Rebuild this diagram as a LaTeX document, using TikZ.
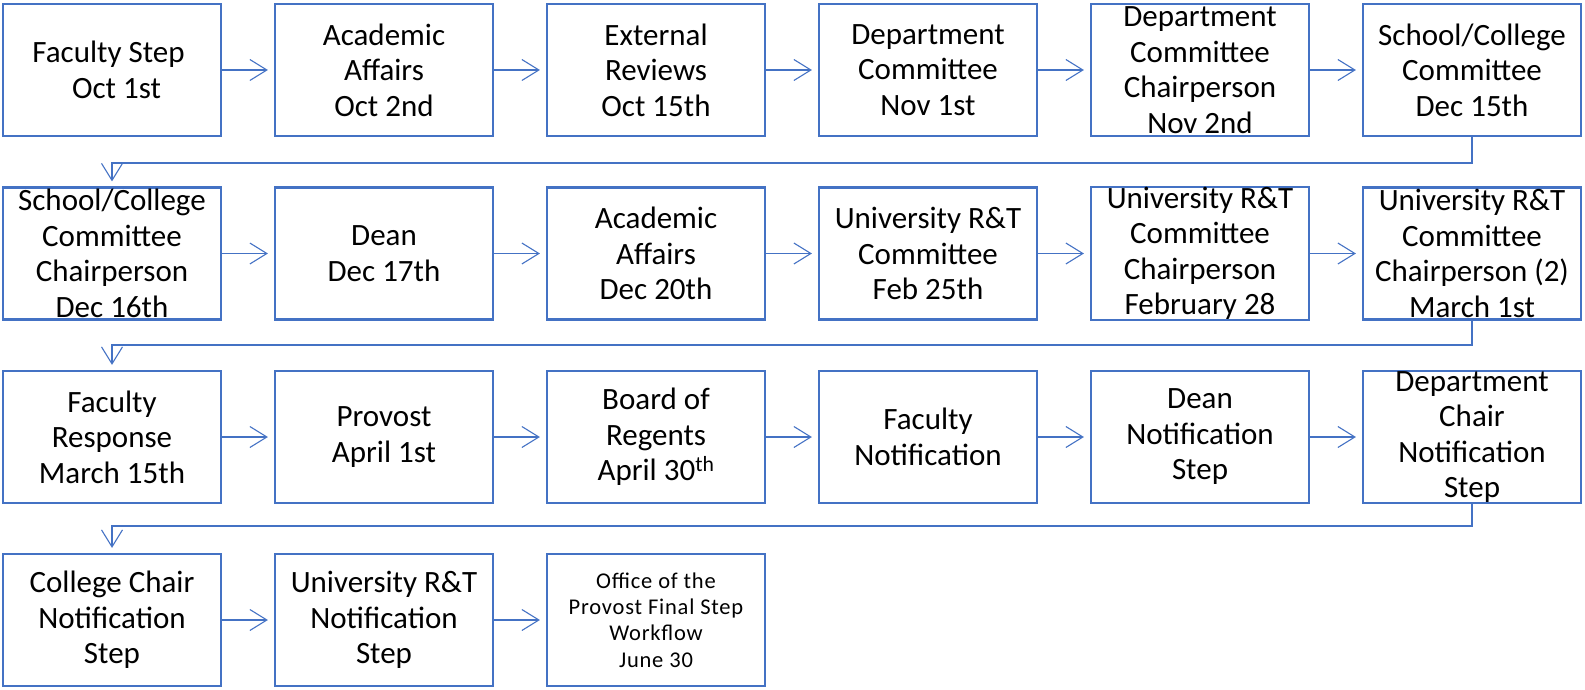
\documentclass[tikz,border=0pt]{standalone}
\usepackage{fontspec}
\setmainfont{Carlito}
\newfontfamily\spacedcarlito[LetterSpace=3.5]{Carlito}
\usetikzlibrary{arrows.meta}
\definecolor{boxblue}{HTML}{4472C4}
\tikzset{
  stepbox/.style={draw=boxblue, line width=2.2pt, minimum width=218pt, minimum height=132pt,
    inner sep=0pt, align=center, font=\fontsize{31}{35.5}\selectfont, text=black},
  smallbox/.style={stepbox, font=\spacedcarlito\fontsize{22.5}{26.3}\selectfont},
  conn/.style={draw=boxblue, line width=1.1pt, shorten >=6pt,
    -{Straight Barb[length=17pt,width=21pt,line width=1.1pt]}},
}
\begin{document}
\begin{tikzpicture}[x=1pt,y=-1pt]
\useasboundingbox (0,0) rectangle (1585,690);
% row 1
\node[stepbox] (r1c1) at (112,70) {Faculty Step\hspace*{7pt}\\\hspace*{9pt}Oct 1st};
\node[stepbox] (r1c2) at (384,70) {Academic\\Affairs\\Oct 2nd};
\node[stepbox] (r1c3) at (656,70) {External\\Reviews\\Oct 15th};
\node[stepbox] (r1c4) at (928,70) {Department\\Committee\\Nov 1st};
\node[stepbox] (r1c5) at (1200,70) {Department\\Committee\\Chairperson\\Nov 2nd};
\node[stepbox] (r1c6) at (1472,70) {School/College\\Committee\\Dec 15th};
% row 2
\node[stepbox] (r2c1) at (112,253.5) {School/College\\Committee\\Chairperson\\Dec 16th};
\node[stepbox] (r2c2) at (384,253.5) {Dean\\Dec 17th};
\node[stepbox] (r2c3) at (656,253.5) {Academic\\Affairs\\Dec 20th};
\node[stepbox] (r2c4) at (928,253.5) {University R\&T\\Committee\\Feb 25th};
\node[stepbox] (r2c5) at (1200,253.5) {University R\&T\\Committee\\Chairperson\\February 28};
\node[stepbox] (r2c6) at (1472,253.5) {University R\&T\\Committee\\Chairperson (2)\\March 1st};
% row 3
\node[stepbox] (r3c1) at (112,437) {Faculty\\Response\\March 15th};
\node[stepbox] (r3c2) at (384,437) {Provost\\April 1st};
\node[stepbox] (r3c3) at (656,437) {Board of\\Regents\\April 30\textsuperscript{th}};
\node[stepbox] (r3c4) at (928,437) {Faculty\\Notification};
\node[stepbox] (r3c5) at (1200,437) {Dean\\Notification\\Step};
\node[stepbox] (r3c6) at (1472,437) {Department\\Chair\\Notification\\Step};
% row 4
\node[stepbox] (r4c1) at (112,620) {College Chair\\Notification\\Step};
\node[stepbox] (r4c2) at (384,620) {University R\&T\\Notification\\Step};
\node[smallbox] (r4c3) at (656,620) {Office of the\\Provost Final Step\\Workflow\\June 30};
% junction levels
\coordinate (j1) at (0,163);
\coordinate (j2) at (0,345);
\coordinate (j3) at (0,526);
% horizontal arrows
\foreach \r in {1,2,3}{
  \foreach \a/\b in {1/2,2/3,3/4,4/5,5/6}{
    \draw[conn] (r\r c\a) -- (r\r c\b);
  }
}
\draw[conn] (r4c1) -- (r4c2);
\draw[conn] (r4c2) -- (r4c3);
% row-to-row connectors
\draw[conn, shorten >=5pt] (r1c6.south) -- (r1c6.south |- j1) -| (r2c1.north);
\draw[conn, shorten >=5pt] (r2c6.south) -- (r2c6.south |- j2) -| (r3c1.north);
\draw[conn, shorten >=5pt] (r3c6.south) -- (r3c6.south |- j3) -| (r4c1.north);
\end{tikzpicture}
\end{document}
